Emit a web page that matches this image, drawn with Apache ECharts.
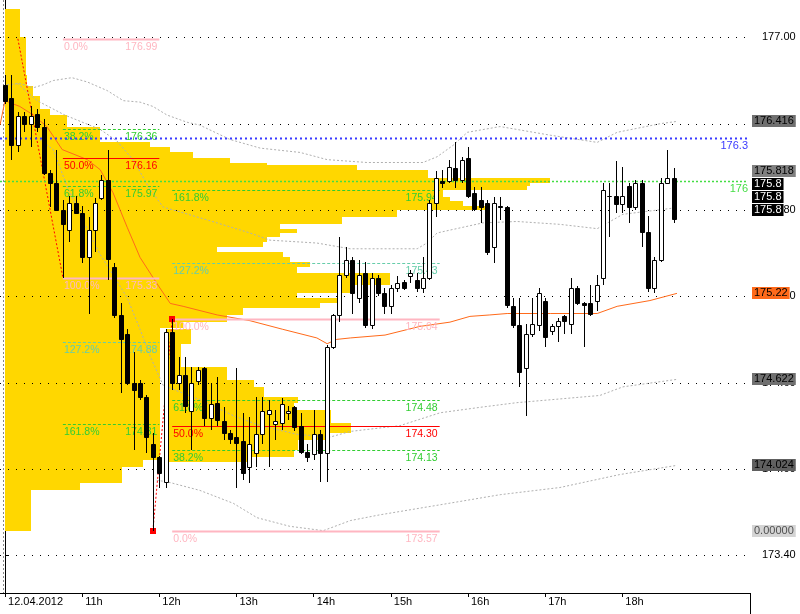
<!DOCTYPE html>
<html><head><meta charset="utf-8">
<script src="https://cdn.jsdelivr.net/npm/echarts@6/dist/echarts.min.js"></script>
<style>html,body{margin:0;padding:0;background:#fff}#c{width:800px;height:614px}</style>
</head><body><div id="c"></div>
<script>
// ---------- data ----------
const timeLabels = ['12.04.2012','11h','12h','13h','14h','15h','16h','17h','18h'];
const timeLabelBars = [0,12,24,36,48,60,72,84,96];
const priceTicks = [173.40,174.00,174.60,175.20,175.80,176.40,177.00];
const separatorBars = [0];

// 5-minute candles: [open, close, low, high]
const candles = [
[176.67,176.56,176.54,176.74],[176.58,176.25,176.15,176.74],[176.25,176.45,176.20,176.48],[176.45,176.40,176.34,176.48],
[176.40,176.45,176.24,176.52],[176.47,176.38,176.34,176.50],[176.38,176.06,176.04,176.43],[176.06,175.99,175.82,176.08],
[175.99,175.80,175.79,176.22],[175.80,175.70,175.33,175.87],[175.66,175.85,175.58,175.90],[175.85,175.78,175.77,175.90],
[175.78,175.47,175.43,175.83],[175.47,175.66,175.08,175.75],[175.66,175.85,175.51,175.88],[175.88,176.01,175.87,176.04],
[176.01,175.46,175.31,176.22],[175.40,175.07,175.05,175.43],[175.07,174.90,174.53,175.15],[174.94,174.60,174.58,174.97],
[174.60,174.55,174.13,174.81],[174.60,174.50,174.48,174.62],[174.50,174.22,174.11,174.51],[174.17,174.08,173.57,174.25],
[174.08,173.97,173.87,174.09],[173.91,174.95,173.87,174.97],[174.95,174.60,174.55,175.04],[174.60,174.65,174.55,174.78],
[174.65,174.44,174.39,174.78],[174.40,174.60,174.13,174.71],[174.61,174.69,174.58,174.71],[174.70,174.35,174.30,174.71],
[174.35,174.45,174.27,174.60],[174.46,174.34,174.30,174.64],[174.33,174.25,174.20,174.43],[174.25,174.21,174.17,174.27],
[174.22,174.18,173.87,174.70],[174.19,173.97,173.92,174.39],[174.01,174.17,173.90,174.36],[174.11,174.24,174.01,174.50],
[174.24,174.40,174.17,174.50],[174.38,174.41,174.01,174.48],[174.31,174.33,174.20,174.41],[174.32,174.45,174.27,174.49],
[174.39,174.40,174.34,174.44],[174.43,174.29,174.26,174.44],[174.30,174.12,174.10,174.39],[174.12,174.08,174.05,174.17],
[174.10,174.24,174.06,174.41],[174.24,174.11,173.91,174.27],[174.11,174.85,173.91,174.86],[174.85,175.07,174.83,175.08],
[175.07,175.35,175.02,175.61],[175.35,175.45,175.33,175.54],[175.45,175.22,175.08,175.47],[175.19,175.35,175.15,175.45],
[175.36,175.00,174.98,175.44],[175.00,175.33,174.97,175.36],[175.33,175.22,175.20,175.35],[175.22,175.13,175.08,175.26],
[175.13,175.26,175.08,175.28],[175.26,175.29,175.23,175.34],[175.30,175.26,175.24,175.31],[175.34,175.36,175.29,175.38],
[175.31,175.26,175.23,175.36],[175.26,175.33,175.22,175.47],[175.33,175.85,175.31,175.87],[175.85,176.02,175.75,176.07],
[176.00,175.99,175.95,176.08],[176.00,176.10,175.99,176.15],[176.09,176.01,175.95,176.27],[176.01,176.15,175.99,176.17],
[176.16,175.90,175.88,176.24],[175.92,175.81,175.79,175.96],[175.87,175.82,175.71,175.96],[175.85,175.51,175.49,175.87],
[175.54,175.85,175.43,175.89],[175.83,175.82,175.73,175.89],[175.82,175.14,175.12,175.83],[175.13,175.00,174.98,175.19],
[175.00,174.67,174.57,175.19],[174.70,174.94,174.37,175.01],[174.94,175.01,174.92,175.19],[175.00,175.22,174.96,175.26],
[175.17,174.92,174.85,175.19],[174.96,174.99,174.93,175.01],[174.99,175.03,174.88,175.05],[175.06,175.03,174.94,175.07],
[175.01,175.26,174.94,175.33],[175.26,175.15,175.14,175.27],[175.15,175.14,174.85,175.16],[175.15,175.08,175.06,175.28],
[175.17,175.28,175.10,175.35],[175.33,175.94,175.28,175.99],[175.90,175.90,175.61,175.99],[175.90,175.84,175.78,176.14],
[175.84,175.90,175.78,176.10],[175.97,175.82,175.71,175.99],[175.82,175.99,175.80,176.01],[175.99,175.65,175.54,176.01],
[175.65,175.26,175.23,175.76],[175.26,175.45,175.22,175.47],[175.45,175.99,175.44,176.02],[175.99,176.02,175.98,176.22],
[176.02,175.74,175.71,176.09]
];

// moving average and bands: [bar, price]
const maLine = [[-0.78,176.39],[0,176.56],[1.1,176.54],[2.3,176.52],[4.4,176.46],[6.5,176.38],[8.9,176.22],[12.8,176.15],
[14.8,176.08],[16.8,175.92],[19.0,175.68],[21.0,175.47],[23.6,175.29],[25.7,175.15],[27.7,175.13],[33.0,175.07],[38.1,175.03],
[43.2,174.97],[48.5,174.91],[50.1,174.87],[51.6,174.90],[53.7,174.91],[59.1,174.93],[64.5,174.99],[69.2,175.02],[72.3,175.06],
[75.4,175.07],[78.1,175.08],[84.8,175.08],[92.1,175.08],[95.2,175.13],[100.3,175.17],[104.5,175.22]];
const bandUp2 = [[0.3,176.67],[2.3,176.68],[4.4,176.65],[5.9,176.67],[7.5,176.70],[10.4,176.72],[12.8,176.69],[15.9,176.63],
[18.4,176.56],[21.0,176.55],[23.0,176.52],[25.2,176.46],[28.3,176.41],[30.3,176.39],[35.0,176.29],[39.7,176.23],[45.9,176.20],
[50.1,176.15],[56.3,176.13],[65.0,176.13],[67.2,176.17],[69.7,176.25],[71.9,176.34],[77.0,176.38],[79.6,176.36],[84.8,176.32],
[92.1,176.27],[95.2,176.34],[101.9,176.40],[104.5,176.416]];
const bandUp1 = [[1.9,176.68],[5.0,176.56],[9.3,176.46],[14.8,176.36],[17.4,176.28],[19.9,176.15],[22.6,175.94],[24.6,175.82],
[27.7,175.78],[33.0,175.71],[38.1,175.64],[41.2,175.59],[48.5,175.57],[53.7,175.53],[64.1,175.53],[65.6,175.57],[67.2,175.64],
[69.2,175.66],[74.3,175.71],[79.6,175.72],[86.3,175.70],[92.1,175.67],[96.1,175.77],[103.4,175.81],[104.5,175.818]];
const bandDn1 = [[5.4,176.29],[7.5,176.22],[9.6,175.97],[12.1,175.73],[14.8,175.49],[16.8,175.35],[19.0,175.19],[21.0,174.97],
[22.6,174.78],[24.6,174.58],[30.3,174.48],[35.5,174.37],[39.7,174.30],[45.4,174.24],[50.5,174.22],[53.7,174.26],[61.4,174.30],
[67.7,174.39],[74.3,174.43],[79.6,174.46],[84.8,174.48],[92.5,174.51],[96.1,174.57],[104.5,174.622]];
const bandDn2 = [[23.6,173.92],[25.2,173.91],[30.3,173.85],[35.5,173.76],[39.2,173.66],[44.3,173.60],[49.5,173.57],[53.7,173.64],
[58.3,173.68],[67.7,173.75],[77.0,173.82],[86.3,173.87],[95.6,173.96],[104.5,174.024]];

// volume profiles: price edges (high to low) and row lengths in bars
const profile1Start = 0;
const profile1Edges = [177.20,177.00,176.74,176.66,176.59,176.50,176.46,176.38,176.27,176.24,176.20,176.16,176.13,176.11,176.08,
176.02,175.99,175.97,175.94,175.89,175.86,175.83,175.80,175.75,175.70,175.67,175.64,175.61,175.58,175.54,175.51,175.47,175.44,
175.40,175.36,175.28,175.22,175.19,175.15,175.12,175.07,175.02,174.98,174.06,174.01,173.90,173.85,173.57];
const profile1Len = [2.3,3.2,3.4,4.4,5.4,7.0,9.6,14.8,22.5,25.7,29.2,35.0,40.7,54.7,65.8,84.8,81.6,81.2,68.1,69.2,71.2,74.6,61.0,
52.4,42.8,45.4,42.8,40.7,40.1,33.0,43.2,44.3,47.4,45.4,59.9,53.7,45.4,51.6,49.0,37.0,34.5,27.7,24.1,21.5,18.2,11.7,4.0];
const profile2Start = 25;
const profile2Edges = [174.97,174.87,174.71,174.62,174.57,174.50,174.46,174.41,174.32,174.25,174.20,174.13,174.08,174.05];
const profile2Len = [3.9,2.3,9.6,13.7,15.2,20.5,19.9,25.7,28.8,25.2,20.5,19.9,13.2];

// fibonacci objects
const fibLevels = ['0.0%','38.2%','50.0%','61.8%','100.0%','127.2%','161.8%'];
const fib1Prices = [176.99,176.36,176.16,175.97,175.33,174.88,174.31];
const fib1Span = [9,24];
const fib1Trend = [[2,176.99],[9,175.33]];
const fib2Prices = [173.57,174.13,174.30,174.48,175.04,175.43,175.94];
const fib2Span = [26,67.6];
const fib2Trend = [[23,173.57],[26,175.04]];

// horizontal levels
const levelPrices = [176.30,176.00];
const levelTexts = ['176.3','176'];

// right-hand value labels
const sideTexts = ['176.416','175.818','175.8','175.8','175.8','175.22','174.622','174.024','0.00000'];
const sidePrices = [176.416,175.818,175.80,175.80,175.80,175.22,174.622,174.024,173.57];

// ---------- styles ----------
const FONT = '"Liberation Sans", Arial, sans-serif';
const fibColors = ['#FFB6C1','#32CD32','#FF0000','#32CD32','#FFB6C1','#66CDAA','#32CD32'];
const fibWidths = [2,1,1,1,2,1,1];
const fibDash = [null,[3,2],null,[3,2],null,[3,2],[3,2]];
const levelColors = ['#3a3aff','#44dd44'];
const levelWidths = [2,1.5];
const levelDash = [[2,3],[2,2]];
const sideBg = ['#707070','#808080','#000','#000','#000','#ff6a1a','#707070','#606060','#d4d4d4'];
const sideFg = ['#000','#000','#fff','#fff','#fff','#000','#000','#000','#505050'];
const BAND = '#b0b0b0';

function profileRows(start, edges, lens){
  return lens.map((l,k)=>[start, l, edges[k], edges[k+1]]);
}

const profileSeries = {
  type:'custom', z:10, silent:true,
  encode:{x:0,y:[2,3]},
  data: profileRows(profile1Start, profile1Edges, profile1Len).concat(profileRows(profile2Start, profile2Edges, profile2Len)),
  renderItem(params, api){
    const s=api.value(0), l=api.value(1), t=api.value(2), b=api.value(3);
    const p1=api.coord([s,t]), p2=api.coord([s+l,b]);
    const x=Math.round(p1[0]), y=Math.round(p1[1]);
    return {type:'rect', shape:{x:x, y:y, width:Math.round(p2[0])-x, height:Math.round(p2[1])-y},
      style:{fill:'#FFD700', stroke:'none'}};
  }
};

const gridSeries = {
  type:'custom', z:11, silent:true, encode:{x:0, y:1},
  data: priceTicks.map(v=>[0, v]),
  renderItem(params, api){
    const cs=params.coordSys;
    const y=Math.round(api.coord([0, api.value(1)])[1])+0.5;
    return {type:'line', shape:{x1:cs.x, y1:y, x2:cs.x+cs.width-3, y2:y},
      style:{stroke:'#000', lineWidth:1, lineDash:[1,7], fill:'none'}};
  }
};

const sepSeries = {
  type:'custom', z:11, silent:true, encode:{x:0, y:1},
  data: separatorBars.map(b=>[b, 175]),
  renderItem(params, api){
    const cs=params.coordSys;
    const x=Math.round(api.coord([api.value(0), 175])[0])-1.5;
    return {type:'line', shape:{x1:x, y1:cs.y, x2:x, y2:cs.y+cs.height},
      style:{stroke:'#888', lineWidth:1, lineDash:[2,2], fill:'none'}};
  }
};

function polySeries(points, color, width, dash, z, squares){
  return {
    type:'custom', z:z, silent:true, encode:{x:0, y:1},
    data: points,
    renderItem(params, api){
      if (params.dataIndex !== 0) return null;
      const pts = points.map(p=>api.coord(p));
      const children=[{type:'polyline', shape:{points:pts},
        style:{stroke:color, lineWidth:width, lineDash:dash||null, fill:'none'}}];
      if (squares) pts.forEach(p=>children.push({type:'rect',
        shape:{x:Math.round(p[0])-3, y:Math.round(p[1])-3, width:6, height:6}, style:{fill:color, stroke:'none'}}));
      return {type:'group', children};
    }
  };
}

function fibSeries(prices, span){
  return {
    type:'custom', z:13, silent:true,
    encode:{x:[0,1], y:2},
    data: prices.map((p,k)=>[span[0], span[1], p, k]),
    renderItem(params, api){
      const x0=api.value(0), x1=api.value(1), p=api.value(2), k=api.value(3);
      const a=api.coord([x0,p]), b=api.coord([x1,p]);
      const y=Math.round(a[1])+0.5;
      const col=fibColors[k];
      const st={stroke:col, lineWidth:fibWidths[k], fill:'none'};
      if (fibDash[k]) st.lineDash=fibDash[k];
      return {type:'group', children:[
        {type:'line', shape:{x1:a[0], y1:y, x2:b[0], y2:y}, style:st},
        {type:'text', style:{text:fibLevels[k], x:a[0]+1, y:y+2, fill:col, font:'10.5px '+FONT, align:'left', verticalAlign:'top'}},
        {type:'text', style:{text:p.toFixed(2), x:b[0]-2, y:y+2, fill:col, font:'10.5px '+FONT, align:'right', verticalAlign:'top'}}
      ]};
    }
  };
}

const levelSeries = {
  type:'custom', z:14, silent:true, encode:{x:0, y:1},
  data: levelPrices.map((v,i)=>[0, v, i]),
  renderItem(params, api){
    const cs=params.coordSys, i=api.value(2);
    const y=Math.round(api.coord([0, api.value(1)])[1])+0.5;
    const right=cs.x+cs.width-2;
    return {type:'group', children:[
      {type:'line', shape:{x1:cs.x, y1:y, x2:right, y2:y},
        style:{stroke:levelColors[i], lineWidth:levelWidths[i], lineDash:levelDash[i], fill:'none'}},
      {type:'text', style:{text:levelTexts[i], x:right, y:y+2, fill:levelColors[i], font:'11px '+FONT, align:'right', verticalAlign:'top'}}
    ]};
  }
};

const candleSeries = {
  type:'custom', z:15, silent:true,
  encode:{x:0, y:[1,2,3,4]},
  data: candles.map((d,i)=>[i].concat(d)),
  renderItem(params, api){
    const i=api.value(0), o=api.value(1), c=api.value(2), l=api.value(3), h=api.value(4);
    const pH=api.coord([i,h]), pL=api.coord([i,l]), pO=api.coord([i,o]), pC=api.coord([i,c]);
    const cx=Math.round(pH[0])+0.5;
    const top=Math.round(Math.min(pO[1],pC[1])), bot=Math.round(Math.max(pO[1],pC[1]));
    const bull = c>=o;
    return {type:'group', children:[
      {type:'line', shape:{x1:cx, y1:Math.round(pH[1]), x2:cx, y2:Math.round(pL[1])}, style:{stroke:'#000', lineWidth:1, fill:'none'}},
      {type:'rect', shape:{x:cx-2, y:top+0.5, width:4, height:Math.max(0, bot-top)},
        style:{fill: bull?'#fff':'#000', stroke:'#000', lineWidth:1}}
    ]};
  }
};

const sideSeries = {
  type:'custom', z:20, silent:true, clip:false, encode:{x:0, y:1},
  data: sidePrices.map(p=>[0, p]),
  renderItem(params, api){
    if (params.dataIndex !== 0) return null;
    const cs=params.coordSys;
    const order = sidePrices.map((p,i)=>i).sort((a,b)=>sidePrices[a]-sidePrices[b]);
    const H=13; let prev=Infinity; const ys=[];
    order.forEach(i=>{
      let y=api.coord([0, sidePrices[i]])[1];
      if (y > prev-H) y = prev-H;
      ys[i]=y; prev=y;
    });
    const x=cs.x+cs.width+2;
    return {type:'group', children: sideTexts.map((t,i)=>({type:'text',
      style:{text:t, x:x, y:Math.round(ys[i]), fill:sideFg[i], backgroundColor:sideBg[i], padding:[1,2,0,2],
        font:'11px '+FONT, align:'left', verticalAlign:'middle', lineHeight:11}}))};
  }
};

const chart = echarts.init(document.getElementById('c'), null, {renderer:'canvas'});
chart.setOption({
  animation:false,
  backgroundColor:'#fff',
  grid:{left:0, right:50, top:0, bottom:21},
  xAxis:{
    type:'value', min:-0.78, max:115.86,
    splitLine:{show:false},
    axisLine:{lineStyle:{color:'#000', width:1}},
    axisTick:{show:true, customValues:timeLabelBars, length:4, lineStyle:{color:'#000'}},
    axisLabel:{customValues:timeLabelBars, formatter:v=>timeLabels[timeLabelBars.indexOf(Math.round(v))] || '',
      align:'left', margin:3, padding:[0,0,0,3], color:'#000', fontSize:11, fontFamily:FONT}
  },
  yAxis:{
    type:'value', position:'right', min:173.1364, max:177.2601,
    splitLine:{show:false},
    axisLine:{show:true, lineStyle:{color:'#000', width:1}},
    axisTick:{show:true, customValues:priceTicks, length:4, lineStyle:{color:'#000'}},
    axisLabel:{customValues:priceTicks, formatter:v=>v.toFixed(2), color:'#000', fontSize:11, fontFamily:FONT, margin:12}
  },
  graphic:[{type:'line', z:100, silent:true, shape:{x1:750.5, y1:593, x2:750.5, y2:614}, style:{stroke:'#000', lineWidth:1}}],
  series:[
    profileSeries, gridSeries, sepSeries,
    polySeries(bandUp2, BAND, 1, [2,2], 12), polySeries(bandUp1, BAND, 1, [2,2], 12),
    polySeries(bandDn1, BAND, 1, [2,2], 12), polySeries(bandDn2, BAND, 1, [2,2], 12),
    polySeries(maLine, '#ff6a1a', 1, null, 12),
    levelSeries,
    fibSeries(fib1Prices, fib1Span), fibSeries(fib2Prices, fib2Span),
    polySeries(fib1Trend, '#ff0000', 1, [2,2], 13, false), polySeries(fib2Trend, '#ff0000', 1, [2,2], 13, true),
    candleSeries, sideSeries
  ]
});
</script>
</body></html>
